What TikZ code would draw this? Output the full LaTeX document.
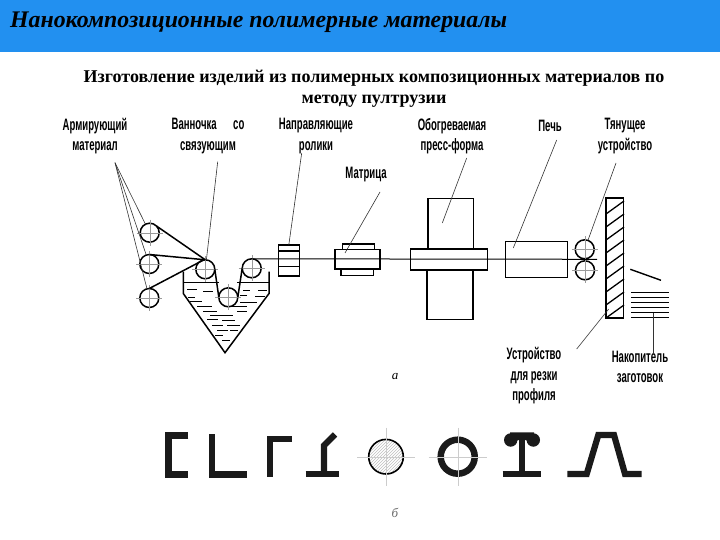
\documentclass[tikz,border=0pt]{standalone}
\usepackage{fontspec}
\setmainfont{Liberation Serif}
\newfontfamily\narrowfont[FakeStretch=0.58]{Liberation Sans}
\usetikzlibrary{arrows.meta,calc,patterns}
\definecolor{HeaderBlue}{HTML}{2290F0}
\definecolor{AxisGray}{HTML}{9A9A9A}
\definecolor{ProfileInk}{HTML}{1A1A1A}

\begin{document}
\begin{tikzpicture}[x=1pt,y=-1pt,
      roller/.style={circle,draw,line width=1.5pt,inner sep=0pt,outer sep=0pt,minimum size=19pt},
      part/.style={rectangle,draw,line width=1.5pt,inner sep=0pt,outer sep=0pt},
      callout/.style={font=\narrowfont\bfseries\fontsize{16.5}{20.5}\selectfont,align=center,inner sep=0pt},
      leader/.style={line width=0.6pt,draw=black!80},
      web/.style={line width=1.5pt},
      axisline/.style={line width=0.4pt,draw=AxisGray},
      profile/.style={line width=6.2pt,draw=ProfileInk,line join=miter}]
    \useasboundingbox (0,0) rectangle (720,540);
    % Header band and the two headings.
    \fill[HeaderBlue] (0,0) rectangle (720,52);
    \node[font=\bfseries\itshape\fontsize{23.8}{26}\selectfont,anchor=west,inner sep=0pt] (title) at (10,22)
      {Нанокомпозиционные полимерные материалы};
    \node[font=\bfseries\fontsize{18}{20.5}\selectfont,align=center,inner sep=0pt] (subtitle) at (374,88.5)
      {Изготовление изделий из полимерных композиционных материалов по\\методу пултрузии};

    % Rollers first, the web and the leaders run between them.
    \foreach \name/\x/\y in {rollA/149.7/232.7,rollB/149.3/264,rollC/149.3/298,
        rollD/205.3/269.3,rollE/228.3/297.3,rollF/251.7/268.3,
        pullA/584.7/249.3,pullB/585/270.3}{%
      \node[roller] (\name) at (\x,\y) {};
      \draw[axisline] ($(\name)+(-13,0)$) -- ($(\name)+(13,0)$);
      \draw[axisline] ($(\name)+(0,-13)$) -- ($(\name)+(0,13)$);
    }

    % Bath with the binder.
    \draw[line width=1.5pt] (183.3,271.7) -- (183.3,293.5) -- (225,352.7) -- (269,293.5) -- (269,271.7);
    \draw[line width=1pt] (183.3,282.3) -- (219,282.3) (237,282.3) -- (269,282.3);
    \foreach \xa/\xb/\y in {187/197/289,203/213/291.7,243/250/290,258/267/290.7,
        188/195/297,240/247/295,255/265/296.7,190/202/301.7,240/257/302.3,
        197/212/306.7,232/247/306.7,203/217/311.7,237/247/311.7,210/233/315.7,
        207/218/319.3,222/235/320.7,212/223/325,227/240/325,217/228/330,
        230/238/330,215/223/335,222/230/340}{%
      \draw[line width=0.8pt] (\xa,\y) -- (\xb,\y);
    }

    % Line of machines.
    \node[part,minimum width=21pt,minimum height=31pt] (guide) at (288.8,260.5) {};
    \draw[line width=1.1pt] (guide.west |- 0,251) -- (guide.east |- 0,251)
      (guide.west |- 0,266.7) -- (guide.east |- 0,266.7);
    \node[part,minimum width=45pt,minimum height=19.7pt] (die) at (357.5,259.2) {};
    \node[part,minimum width=31.6pt,minimum height=5.3pt,anchor=south] (dieTop) at (358.5,249.3) {};
    \node[part,minimum width=32.3pt,minimum height=6.3pt,anchor=north] (dieBase) at (357.2,269) {};
    \node[part,minimum width=76.6pt,minimum height=21.3pt] (band) at (449,259.4) {};
    \node[part,minimum width=45.3pt,minimum height=50pt,anchor=south] (mouldTop) at (450.6,248.7) {};
    \node[part,minimum width=46pt,minimum height=49.3pt,anchor=north] (mouldBase) at (450,270) {};
    \node[part,minimum width=61.6pt,minimum height=36pt] (oven) at (536.5,259.7) {};
    \node[part,minimum width=17.3pt,minimum height=120pt] (cutter) at (614.7,258) {};
    \foreach \y in {201,214,227,240,253,266,279,292,305}{%
      \draw[line width=1.3pt] (606,\y+13) -- (624,\y);
    }
    \coordinate (webEnd) at (597,259.3);
    \draw[web] (rollA.45) -- (rollD.90);
    \draw[web] (rollB.90) -- (rollD.90);
    \draw[web] (rollC.90) -- (rollD.100);
    \draw[web] (rollD.east) -- (rollE.west);
    \draw[web] (rollE.east) -- (rollF.west);
    \draw[line width=1pt] (rollF.north) -- (webEnd);

    % Cut piece and the stack of blanks.
    \coordinate (pieceA) at (630.3,269.3);
    \coordinate (pieceB) at (661,280.3);
    \draw[line width=1.4pt] (pieceA) -- (pieceB);
    \foreach \y in {292.7,297.7,302.7,307.7,312.7,317.7}{%
      \draw[line width=1.4pt] (631,\y) -- (669,\y);
    }

    % Callouts.
    \foreach \name/\x/\y/\body in {
        armLabel/95/136/{Армирующий\\материал},
        bathLabel/208/136/{Ванночка\quad со\\связующим},
        guideLabel/316/136/{Направляющие\\ролики},
        dieLabel/366/175/{Матрица},
        mouldLabel/452/136/{Обогреваемая\\пресс-форма},
        ovenLabel/550/126/{Печь},
        pullLabel/625/136/{Тянущее\\устройство},
        cutLabel/534/376/{Устройство\\для резки\\профиля},
        stackLabel/640/367/{Накопитель\\заготовок}}{%
      \node[callout] (\name) at (\x,\y) {\body};
    }
    \foreach \name/\x/\y in {armTip/115/162.7,bathTip/217.7/161.7,guideTip/301.7/153,
        dieTip/380/192,dieEnd/345/253,mouldTip/466.7/158,mouldEnd/442.3/223,
        ovenTip/556.7/140,ovenEnd/513.3/248,pullTip/616/163,cutTip/576.7/349,
        cutEnd/608.7/309,stackTip/653.3/313,stackEnd/653.3/355}{%
      \coordinate (\name) at (\x,\y);
    }
    \draw[leader] (armTip) -- (rollA);
    \draw[leader] (armTip) -- (rollB);
    \draw[leader] (armTip) -- (rollC);
    \draw[leader] (bathTip) -- (rollD);
    \draw[leader] (guideTip) -- (guide.north);
    \draw[leader] (dieTip) -- (dieEnd);
    \draw[leader] (mouldTip) -- (mouldEnd);
    \draw[leader] (ovenTip) -- (ovenEnd);
    \draw[leader] (pullTip) -- (pullA);
    \draw[leader] (cutTip) -- (cutEnd);
    \draw[leader] (stackTip) -- (stackEnd);

    \node[font=\itshape\fontsize{13}{15}\selectfont,inner sep=0pt] (capA) at (395,377) {а};
    \node[font=\itshape\fontsize{13}{15}\selectfont,text=black!60,inner sep=0pt] (capB) at (395,513) {б};

    % Row of profiles.
    \draw[profile] (188.3,435.5) -- (168.5,435.5) -- (168.5,474.5) -- (188.3,474.5);
    \draw[profile] (212,434) -- (212,474.5) -- (246.7,474.5);
    \draw[profile] (291.7,438.8) -- (270,438.8) -- (270,477.3);
    \draw[profile] (305.7,474) -- (339.3,474);
    \draw[profile] (324,474) -- (324,445.5) -- (335,434.5);
    \node[circle,draw,line width=1.6pt,inner sep=0pt,minimum size=34.6pt,
          pattern=north east lines,pattern color=black!25] (rodSolid) at (386,456.7) {};
    \node[circle,draw=ProfileInk,line width=6.5pt,inner sep=0pt,minimum size=34pt] (rodTube) at (457.7,456.7) {};
    \foreach \name in {rodSolid,rodTube}{%
      \draw[axisline,draw=AxisGray!50] ($(\name)+(-29,0)$) -- ($(\name)+(29,0)$);
      \draw[axisline,draw=AxisGray!50] ($(\name)+(0,-29)$) -- ($(\name)+(0,29)$);
    }
    \draw[profile] (502.7,474.2) -- (541,474.2);
    \draw[profile] (522,474) -- (522,434);
    \fill[ProfileInk] (510,432.3) -- (534,432.3) -- (534,446.7) -- (526,440) -- (518,440) -- (510,446.7) -- cycle;
    \fill[ProfileInk] (510.7,440) circle (6.7) (533.3,440) circle (6.7);
    \draw[profile] (567.3,474) -- (586.7,474) -- (598.3,435) -- (614,435) -- (625,474) -- (641.7,474);
  \end{tikzpicture}
\end{document}
